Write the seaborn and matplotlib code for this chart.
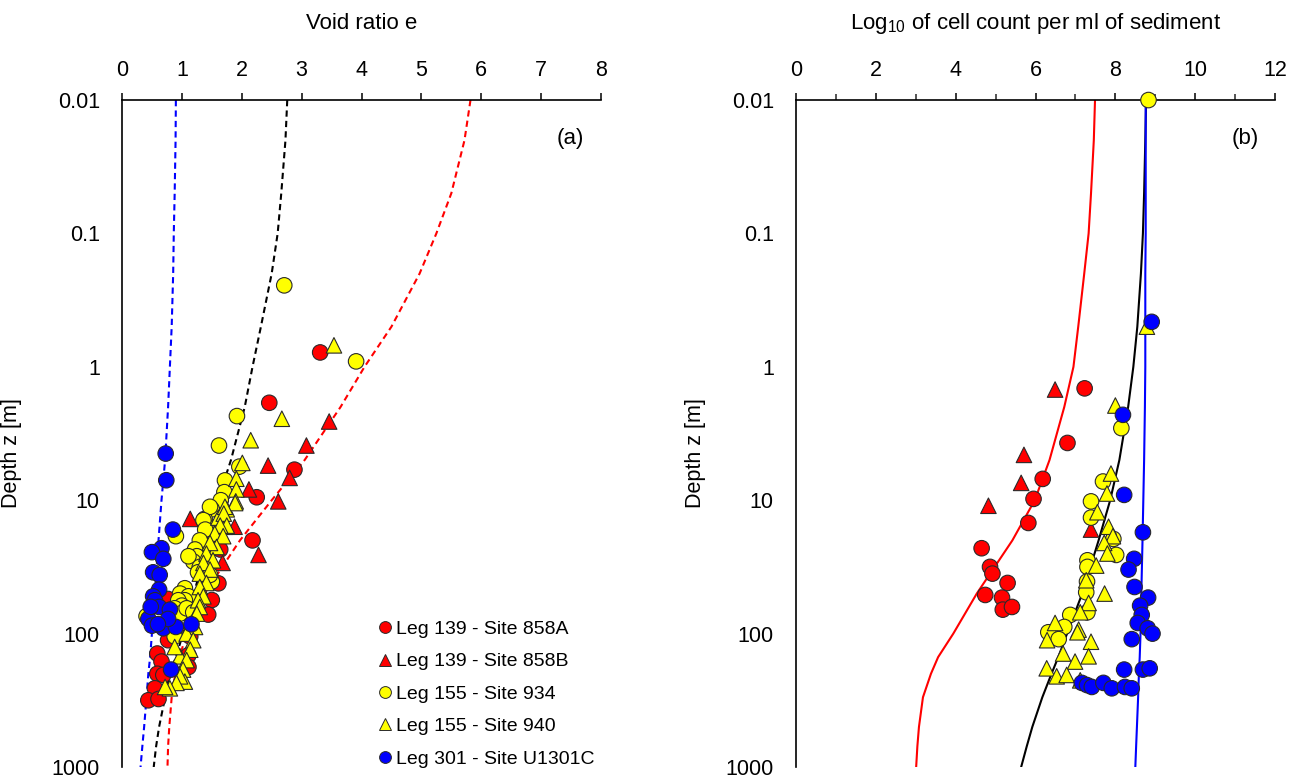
import matplotlib
matplotlib.use("Agg")
import matplotlib.pyplot as plt
from matplotlib.lines import Line2D
import pandas as pd
import seaborn as sns

FIG_SIZE = (13.06, 7.81)

SERIES = ["Leg 139 - Site 858A", "Leg 139 - Site 858B", "Leg 155 - Site 934",
          "Leg 155 - Site 940", "Leg 301 - Site U1301C"]
COLORS = ["#ff0000", "#ff0000", "#ffff00", "#ffff00", "#0000ff"]
MARKERS = ["o", "^", "o", "^", "o"]

DEPTH_TICKS = [0.01, 0.1, 1, 10, 100, 1000]
DEPTH_LABELS = ["0.01", "0.1", "1", "10", "100", "1000"]

# ---- panel (a): void ratio e vs depth ----
a_858a_e = [3.31, 2.46, 2.88, 2.25, 2.18, 1.19, 1.64, 0.77, 0.59, 0.66, 0.59, 0.69, 0.55, 0.44,
            0.61, 1.11, 1.11, 1.61, 1.50, 1.44, 1.14, 0.77]
a_858a_z = [0.78, 1.86, 5.9, 9.5, 20, 26, 23.4, 55, 141, 162, 200, 204, 257, 316,
            309, 145, 178, 42, 56, 72, 105, 112]

a_858b_e = [3.46, 3.08, 2.44, 2.80, 2.12, 2.61, 1.14, 1.88, 2.28, 1.68]
a_858b_z = [2.57, 3.89, 5.5, 6.8, 8.3, 10.2, 13.8, 15.8, 25.7, 29.5]

a_934_e = [2.71, 3.91, 1.92, 1.62, 1.96, 1.72, 1.71, 1.65, 1.50, 1.38, 1.41, 0.90, 1.55, 1.27,
           1.47, 1.36, 1.39, 1.30, 1.22, 1.25, 1.19, 1.30, 1.27, 1.41, 1.50, 1.05, 0.97, 1.11,
           1.05, 0.94, 1.00, 0.88, 0.97, 1.08, 1.19, 0.83, 0.88, 0.41, 1.11, 1.47]
a_934_z = [0.245, 0.91, 2.34, 3.89, 5.6, 7.1, 8.7, 10, 11.7, 13.8, 15.8, 18.6, 18.2, 25,
           11.2, 14.1, 16.6, 20, 23.4, 26.3, 28.8, 31.6, 34.7, 37.2, 40.7, 45.7, 50.1, 52.5,
           56.2, 56.2, 61.7, 64.6, 70.8, 64.6, 69.2, 93.3, 105, 74, 26.3, 36.3]

a_940_e = [3.54, 2.67, 2.15, 2.01, 1.91, 1.91, 1.90, 1.75, 1.61, 1.72, 1.52,
           1.89, 1.72, 1.70, 1.75, 1.64, 1.55, 1.69, 1.58, 1.47, 1.41, 1.52, 1.36, 1.47, 1.30,
           1.41, 1.30, 1.36, 1.27, 1.30, 1.25, 1.16, 1.22, 1.08, 1.19, 1.14, 0.97, 1.08, 0.88,
           1.02, 1.05, 0.97, 0.91, 0.80, 0.72]
a_940_z = [0.69, 2.45, 3.55, 5.25, 6.9, 8.3, 10.2, 11.7, 13.5, 15.8, 22.4,
           10.5, 11.2, 12.6, 15.5, 15.5, 17.8, 18.6, 22.4, 20.9, 25.1, 28.2, 29.5, 33.1, 35.5,
           41.7, 44.7, 52.5, 56.2, 63.1, 70.8, 83.2, 89.1, 100, 112, 132, 148, 158, 126,
           186, 229, 209, 234, 257, 251]

a_u1301_e = [0.73, 0.74, 0.85, 0.66, 0.50, 0.69, 0.52, 0.63, 0.62, 0.52, 0.55, 0.62, 0.80,
             0.44, 0.50, 0.69, 0.90, 0.77, 1.16, 0.82, 0.60, 0.48]
a_u1301_z = [4.47, 7.08, 16.6, 22.9, 24.5, 27.5, 34.7, 36.3, 46.8, 52.5, 56.2, 63.1, 66.1,
             77.6, 87.1, 91.2, 89.1, 77.6, 85.1, 186, 85, 63]

curve_depth = [0.01, 0.02, 0.05, 0.1, 0.2, 0.5, 1, 2, 5, 10, 20, 50, 100, 150, 200, 300,
               500, 700, 1000]
a_curve_blue = [0.90, 0.895, 0.88, 0.865, 0.855, 0.83, 0.80, 0.77, 0.72, 0.66, 0.61, 0.55,
                0.50, 0.47, 0.44, 0.41, 0.37, 0.34, 0.31]
a_curve_black = [2.76, 2.73, 2.66, 2.60, 2.50, 2.32, 2.18, 2.05, 1.82, 1.60, 1.45, 1.20,
                 1.02, 0.90, 0.80, 0.72, 0.62, 0.57, 0.53]
a_curve_red = [5.82, 5.72, 5.50, 5.25, 4.97, 4.50, 4.05, 3.65, 3.05, 2.50, 1.97, 1.38,
               1.08, 0.96, 0.89, 0.83, 0.79, 0.77, 0.76]

# ---- panel (b): log10 cell count vs depth ----
b_858a_x = [7.23, 6.80, 6.18, 5.95, 5.82, 4.65, 4.86, 4.92, 5.30, 4.74, 5.16, 5.18, 5.41]
b_858a_z = [1.45, 3.72, 6.92, 9.77, 14.8, 22.9, 31.6, 35.5, 41.7, 51.3, 53.7, 66.1, 63.1]

b_858b_x = [6.49, 5.71, 5.64, 4.82, 7.39]
b_858b_z = [1.48, 4.57, 7.41, 11.0, 16.6]

b_934_x = [8.83, 8.15, 7.69, 7.39, 7.39, 7.95, 8.02, 7.30, 7.30, 7.29, 7.27, 7.30, 6.87,
           6.72, 6.32, 6.58]
b_934_z = [0.01, 2.88, 7.24, 10.2, 13.5, 19.5, 25.7, 28.2, 31.6, 40.7, 49.0, 69.2, 72.4,
           89.1, 97.7, 110]

b_940_x = [8.79, 8.00, 7.89, 7.79, 7.55, 7.83, 7.94, 7.72, 7.80, 7.52, 7.27, 7.73, 7.33,
           7.12, 6.49, 7.08, 7.05, 6.29, 7.39, 6.69, 7.33, 6.99, 6.28, 6.53, 6.78, 7.12]
b_940_z = [0.50, 1.95, 6.31, 8.91, 12.3, 15.8, 18.6, 20.9, 25.1, 30.9, 39.8, 50.1, 58.9,
           69.2, 83.2, 93.3, 97.7, 112, 115, 141, 148, 162, 182, 209, 204, 224]

b_u1301_x = [8.91, 8.19, 8.22, 8.69, 8.47, 8.33, 8.48, 8.82, 8.62, 8.66, 8.56, 8.81, 8.93,
             8.41, 8.22, 8.69, 8.86, 7.16, 7.29, 7.41, 7.70, 7.91, 8.24, 8.41]
b_u1301_z = [0.46, 2.29, 9.12, 17.4, 27.5, 33.1, 44.7, 53.7, 61.7, 72.4, 83.2, 91.2, 100,
             110, 186, 186, 182, 234, 243, 251, 234, 257, 251, 257]

b_curve_red = [7.49, 7.46, 7.39, 7.33, 7.22, 7.07, 6.95, 6.72, 6.35, 5.98, 5.42, 4.53,
               3.94, 3.56, 3.38, 3.18, 3.08, 3.04, 3.01]
b_curve_black = [8.77, 8.75, 8.72, 8.69, 8.64, 8.55, 8.45, 8.32, 8.10, 7.87, 7.58, 7.17,
                 6.79, 6.57, 6.40, 6.17, 5.92, 5.78, 5.64]
b_curve_blue = [8.76, 8.76, 8.76, 8.76, 8.75, 8.75, 8.75, 8.74, 8.72, 8.70, 8.68, 8.65,
                8.63, 8.61, 8.59, 8.57, 8.54, 8.52, 8.50]


def points_frame(xs, zs):
    rows = []
    for name, x, z in zip(SERIES, xs, zs):
        rows += [{"series": name, "x": a, "z": b} for a, b in zip(x, z)]
    return pd.DataFrame(rows)


def style_axes(ax, xmax, xmajor, xminor, xlabel, ylabel_x):
    ax.set_yscale("log")
    ax.set_ylim(1000, 0.01)
    ax.set_xlim(0, xmax)
    ax.set_yticks(DEPTH_TICKS, labels=DEPTH_LABELS)
    ax.minorticks_off()
    ax.set_xticks(xmajor)
    if xminor:
        ax.set_xticks(xminor, minor=True)
    ax.xaxis.tick_top()
    ax.xaxis.set_label_position("top")
    for s in ["right", "bottom"]:
        ax.spines[s].set_visible(False)
    for s in ["left", "top"]:
        ax.spines[s].set_linewidth(1.2)
        ax.spines[s].set_color("black")
    ax.tick_params(axis="both", which="major", direction="out", length=5, width=1.1,
                   labelsize=15.5, colors="black", pad=9)
    ax.tick_params(axis="x", which="minor", direction="out", length=4, width=1.1)
    ax.tick_params(axis="y", pad=11)
    ax.set_xlabel(xlabel, fontsize=16, labelpad=22)
    ax.set_ylabel("Depth z [m]", fontsize=15.5)
    ax.yaxis.set_label_coords(ylabel_x, 0.47)
    ax.grid(False)


sns.set_theme(style="white")
plt.rcParams["font.family"] = ["Liberation Sans", "DejaVu Sans"]
plt.rcParams["mathtext.fontset"] = "custom"
plt.rcParams["mathtext.rm"] = "Liberation Sans"
plt.rcParams["mathtext.it"] = "Liberation Sans:italic"
plt.rcParams["text.color"] = "black"
plt.rcParams["axes.labelcolor"] = "black"

fig = plt.figure(figsize=FIG_SIZE, dpi=100)
ax_a = fig.add_axes([0.0934, 0.0179, 0.3668, 0.854])
ax_b = fig.add_axes([0.6095, 0.0179, 0.3668, 0.854])

palette = dict(zip(SERIES, COLORS))
markers = dict(zip(SERIES, MARKERS))

# panel (a)
for vals, col in [(a_curve_blue, "#0000ff"), (a_curve_black, "black"), (a_curve_red, "#ff0000")]:
    sns.lineplot(x=vals, y=curve_depth, sort=False, estimator=None, color=col,
                 linewidth=1.5, ax=ax_a, zorder=2)
    ax_a.lines[-1].set_dashes((3, 2))

df_a = points_frame([a_858a_e, a_858b_e, a_934_e, a_940_e, a_u1301_e],
                    [a_858a_z, a_858b_z, a_934_z, a_940_z, a_u1301_z])
sns.scatterplot(data=df_a, x="x", y="z", hue="series", style="series", palette=palette,
                markers=markers, s=125, edgecolor="#2a2a2a", linewidth=0.8, legend=False,
                ax=ax_a, zorder=3, clip_on=False)
style_axes(ax_a, 8, list(range(0, 9)), None, "Void ratio e", -0.209)
ax_a.text(0.935, 0.943, "(a)", transform=ax_a.transAxes, ha="center", va="center", fontsize=16)

handles = [Line2D([0], [0], marker=m, color="none", markerfacecolor=c, markeredgecolor="#2a2a2a",
                  markeredgewidth=0.7, markersize=8.5) for m, c in zip(MARKERS, COLORS)]
ax_a.legend(handles, SERIES, loc="upper left", bbox_to_anchor=(0.497, 0.246), frameon=False,
            fontsize=14, handlelength=0.8, handletextpad=0.15, labelspacing=0.76,
            borderpad=0.4, labelcolor="black")

# panel (b)
for vals, col in [(b_curve_red, "#ff0000"), (b_curve_black, "black"), (b_curve_blue, "#0000ff")]:
    sns.lineplot(x=vals, y=curve_depth, sort=False, estimator=None, color=col,
                 linewidth=1.5, ax=ax_b, zorder=2)

df_b = points_frame([b_858a_x, b_858b_x, b_934_x, b_940_x, b_u1301_x],
                    [b_858a_z, b_858b_z, b_934_z, b_940_z, b_u1301_z])
sns.scatterplot(data=df_b, x="x", y="z", hue="series", style="series", palette=palette,
                markers=markers, s=125, edgecolor="#2a2a2a", linewidth=0.8, legend=False,
                ax=ax_b, zorder=3, clip_on=False)
style_axes(ax_b, 12, list(range(0, 13, 2)), list(range(1, 12, 2)),
           r"Log$_{10}$ of cell count per ml of sediment", -0.188)
ax_b.text(0.937, 0.943, "(b)", transform=ax_b.transAxes, ha="center", va="center", fontsize=16)

fig.savefig("out.png", dpi=100)
